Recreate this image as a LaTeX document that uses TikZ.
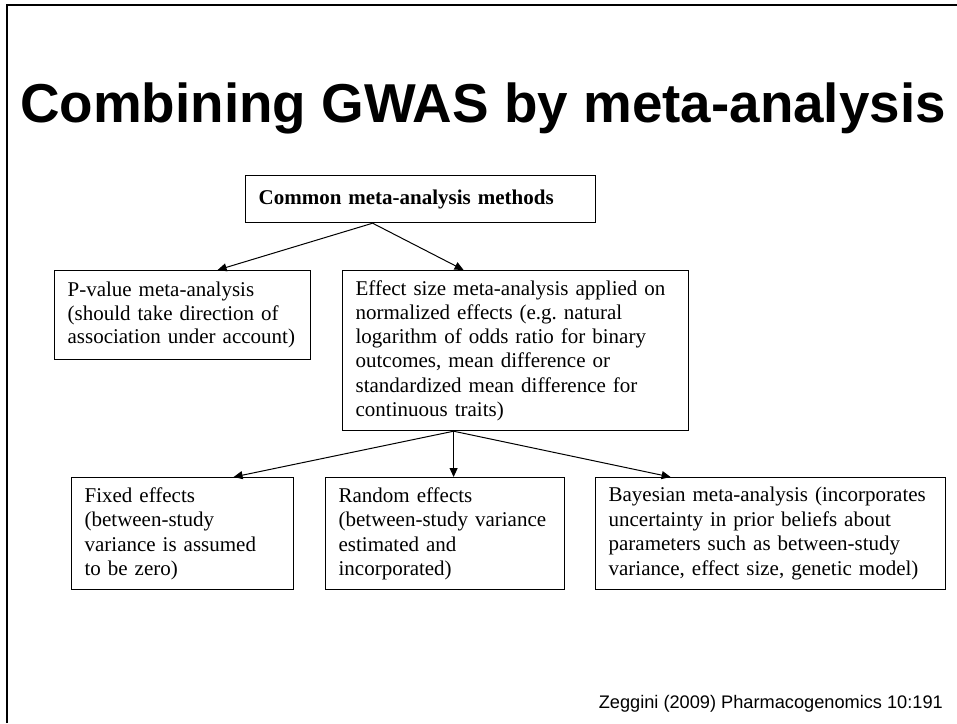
\documentclass[tikz,border=0pt]{standalone}
\usepackage{fontspec}
\setmainfont{Liberation Serif}
\setsansfont{Liberation Sans}
\usepackage{tikz}
\usetikzlibrary{arrows.meta}
\frenchspacing

\begin{document}
\begin{tikzpicture}[x=1pt,y=-1pt,
	box/.style={draw,line width=1.2pt,anchor=north west,align=left,inner xsep=13pt,inner ysep=0pt,
		font=\fontsize{21}{23.5}\selectfont},
	arr/.style={line width=1pt,-{Triangle[length=9pt,width=8pt]}}]
	\useasboundingbox (0,0) rectangle (957,723);
	\draw[line width=2.5pt] (7,723) -- (7,5) -- (957,5);
	\node[anchor=base,font=\sffamily\bfseries\fontsize{54.8}{60}\selectfont] (title) at (483,122) {Combining GWAS by meta-analysis};
	\node[box,minimum width=350pt,minimum height=47pt,text width=324pt,font=\bfseries\fontsize{21}{23.5}\selectfont] (top) at (245,175) {Common meta-analysis methods};
	\node[box,minimum width=256pt,minimum height=89pt,text width=230pt] (pval) at (54,270) {P-value meta-analysis\\(should take direction of\\association under account)};
	\node[box,minimum width=346pt,minimum height=160pt,text width=320pt,font=\fontsize{21}{24.3}\selectfont] (eff) at (342,270) {Effect size meta-analysis applied on\\normalized effects (e.g. natural\\logarithm of odds ratio for binary\\outcomes, mean difference or\\standardized mean difference for\\continuous traits)};
	\node[box,minimum width=222pt,minimum height=112pt,text width=196pt,font=\fontsize{21}{24.5}\selectfont] (fixed) at (71,477) {Fixed effects\\(between-study\\variance is assumed\\to be zero)};
	\node[box,minimum width=239pt,minimum height=112pt,text width=213pt,font=\fontsize{21}{24.5}\selectfont] (random) at (325,477) {Random effects\\(between-study variance\\estimated and\\incorporated)};
	\node[box,minimum width=350pt,minimum height=112pt,text width=324pt,font=\fontsize{21}{24.5}\selectfont] (bayes) at (595,477) {Bayesian meta-analysis (incorporates\\uncertainty in prior beliefs about\\parameters such as between-study\\variance, effect size, genetic model)};
	\draw[arr] ([xshift=-48pt]top.south) -- ([xshift=35pt]pval.north);
	\draw[arr] ([xshift=-48pt]top.south) -- ([xshift=-52pt]eff.north);
	\draw[arr] ([xshift=-62pt]eff.south) -- ([xshift=51pt]fixed.north);
	\draw[arr] ([xshift=-62pt]eff.south) -- ([xshift=8.5pt]random.north);
	\draw[arr] ([xshift=-62pt]eff.south) -- ([xshift=-100pt]bayes.north);
	\node[anchor=base east,inner sep=0pt,font=\sffamily\fontsize{18.2}{20}\selectfont] (cite) at (943,708) {Zeggini (2009) Pharmacogenomics 10:191};
\end{tikzpicture}
\end{document}
